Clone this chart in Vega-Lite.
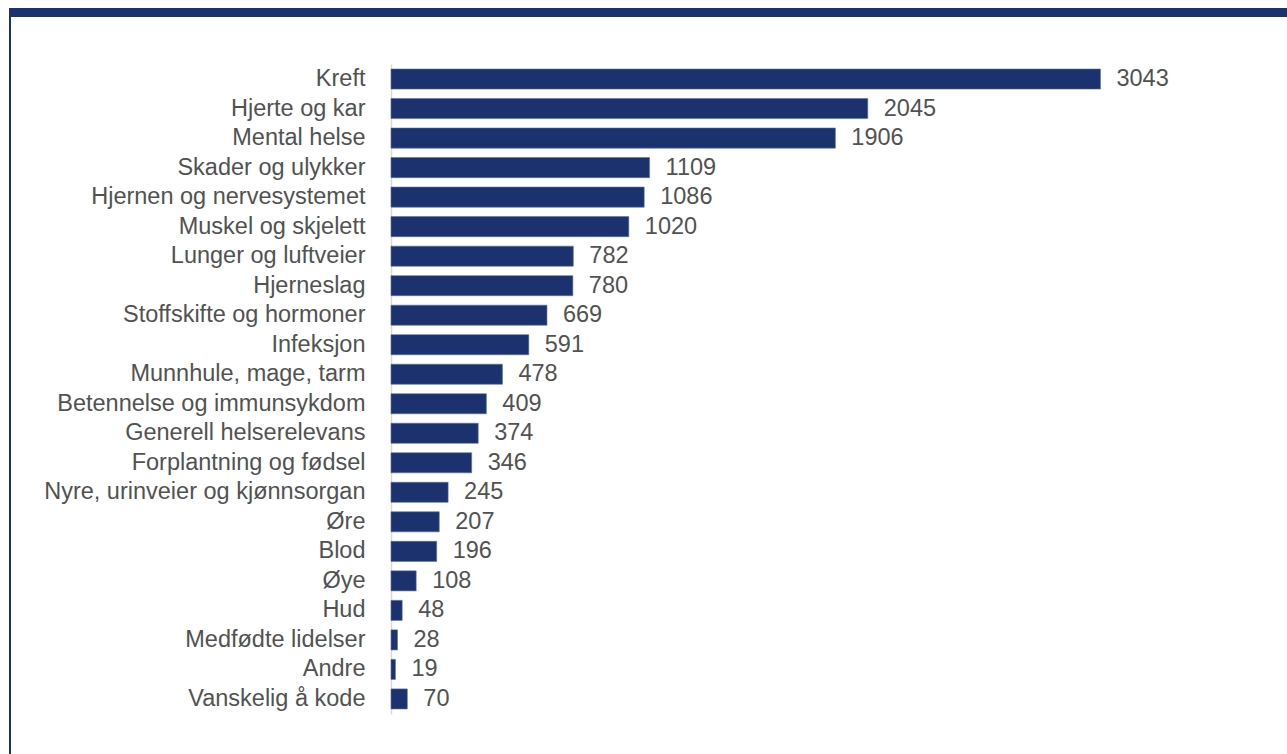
{
  "$schema": "https://vega.github.io/schema/vega-lite/v6.json",
  "padding": {"left": 9, "top": 8, "right": 0, "bottom": 0},
  "background": "white",
  "config": {
    "view": {"stroke": null},
    "font": "Liberation Sans",
    "text": {"font": "Liberation Sans"}
  },
  "spacing": 0,
  "vconcat": [
    {
      "width": 1278,
      "height": 9,
      "data": {"values": [{"k": 1}]},
      "mark": {"type": "rect", "opacity": 0},
      "encoding": {},
      "view": {"stroke": null, "fill": "#1b326e"}
    },
    {
      "spacing": 32,
      "center": true,
      "hconcat": [
        {
          "width": 2,
          "height": 744,
          "data": {"values": [{"k": 1}]},
          "mark": {"type": "rect", "opacity": 0},
          "encoding": {},
          "view": {"stroke": null, "fill": "#1b326e"}
        },
        {
          "width": 816,
          "height": 650,
          "data": {
            "values": [
              {"kategori": "Kreft", "antall": 3043},
              {"kategori": "Hjerte og kar", "antall": 2045},
              {"kategori": "Mental helse", "antall": 1906},
              {"kategori": "Skader og ulykker", "antall": 1109},
              {"kategori": "Hjernen og nervesystemet", "antall": 1086},
              {"kategori": "Muskel og skjelett", "antall": 1020},
              {"kategori": "Lunger og luftveier", "antall": 782},
              {"kategori": "Hjerneslag", "antall": 780},
              {"kategori": "Stoffskifte og hormoner", "antall": 669},
              {"kategori": "Infeksjon", "antall": 591},
              {"kategori": "Munnhule, mage, tarm", "antall": 478},
              {"kategori": "Betennelse og immunsykdom", "antall": 409},
              {"kategori": "Generell helserelevans", "antall": 374},
              {"kategori": "Forplantning og fødsel", "antall": 346},
              {"kategori": "Nyre, urinveier og kjønnsorgan", "antall": 245},
              {"kategori": "Øre", "antall": 207},
              {"kategori": "Blod", "antall": 196},
              {"kategori": "Øye", "antall": 108},
              {"kategori": "Hud", "antall": 48},
              {"kategori": "Medfødte lidelser", "antall": 28},
              {"kategori": "Andre", "antall": 19},
              {"kategori": "Vanskelig å kode", "antall": 70}
            ]
          },
          "encoding": {
            "y": {
              "field": "kategori",
              "type": "nominal",
              "sort": null,
              "scale": {"paddingInner": 0.32, "paddingOuter": 0.17},
              "axis": {
                "title": null,
                "ticks": false,
                "domainColor": "#d9d9d9",
                "domainWidth": 1.5,
                "labelFont": "Liberation Sans",
                "labelFontSize": 23.5,
                "labelColor": "#525252",
                "labelPadding": 26,
                "labelLimit": 500
              }
            },
            "x": {
              "field": "antall",
              "type": "quantitative",
              "scale": {"domain": [0, 3500], "nice": false},
              "axis": null
            }
          },
          "layer": [
            {
              "mark": {"type": "bar", "color": "#1b326e", "stroke": "#5c6f9e", "strokeWidth": 0.6}
            },
            {
              "mark": {
                "type": "text",
                "align": "left",
                "baseline": "middle",
                "dx": 16,
                "font": "Liberation Sans",
                "fontSize": 23.5,
                "color": "#525252"
              },
              "encoding": {"text": {"field": "antall", "type": "quantitative"}}
            }
          ]
        }
      ]
    }
  ]
}
